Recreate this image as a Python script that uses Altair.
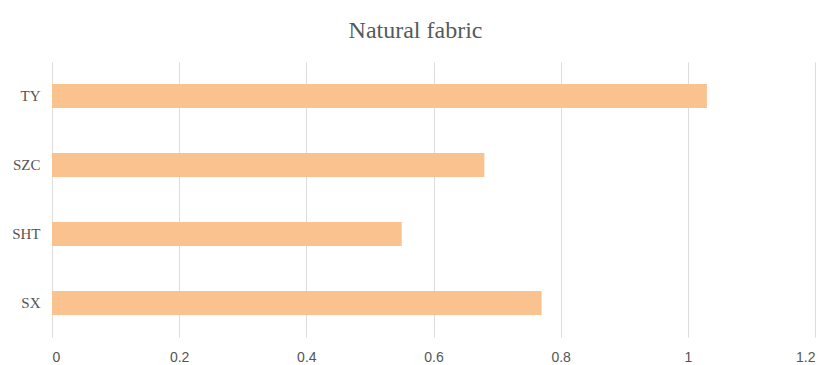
import altair as alt
import pandas as pd

categories = ["TY", "SZC", "SHT", "SX"]
values = [1.03, 0.68, 0.55, 0.77]
x_ticks = [0, 0.2, 0.4, 0.6, 0.8, 1.0, 1.2]

df = pd.DataFrame({"cat": categories, "val": values})

chart = alt.Chart(df).mark_bar(color="#F9C28F").encode(
    y=alt.Y("cat:N", sort=categories, title=None,
            scale=alt.Scale(paddingInner=0.652, paddingOuter=0.32),
            axis=alt.Axis(labelFont="Liberation Serif", labelFontSize=15,
                          labelColor="#555555", ticks=False, domain=False,
                          labelPadding=12, grid=False)),
    x=alt.X("val:Q", title=None,
            scale=alt.Scale(domain=[0, 1.2], nice=False),
            axis=alt.Axis(values=x_ticks, labelFont="Liberation Sans", labelFontSize=14,
                          labelColor="#555555", ticks=False, domain=False,
                          labelPadding=13, grid=True, gridColor="#dddddd",
                          labelExpr="datum.value == 1 ? '1' : format(datum.value, '.1f') == '0.0' ? '0' : format(datum.value, '.1f')")),
).properties(
    width=763, height=275,
    background="white",
    title=alt.TitleParams("Natural fabric", font="Liberation Serif", fontSize=24,
                          fontWeight="normal", color="#555b5b", dx=-18, offset=19),
    autosize=alt.AutoSizeParams(type="none"),
    padding={"left": 52, "top": 62, "right": 14, "bottom": 28},
).configure_view(strokeWidth=0)

chart.save("out.html", embed_options={"renderer": "svg", "actions": False})
